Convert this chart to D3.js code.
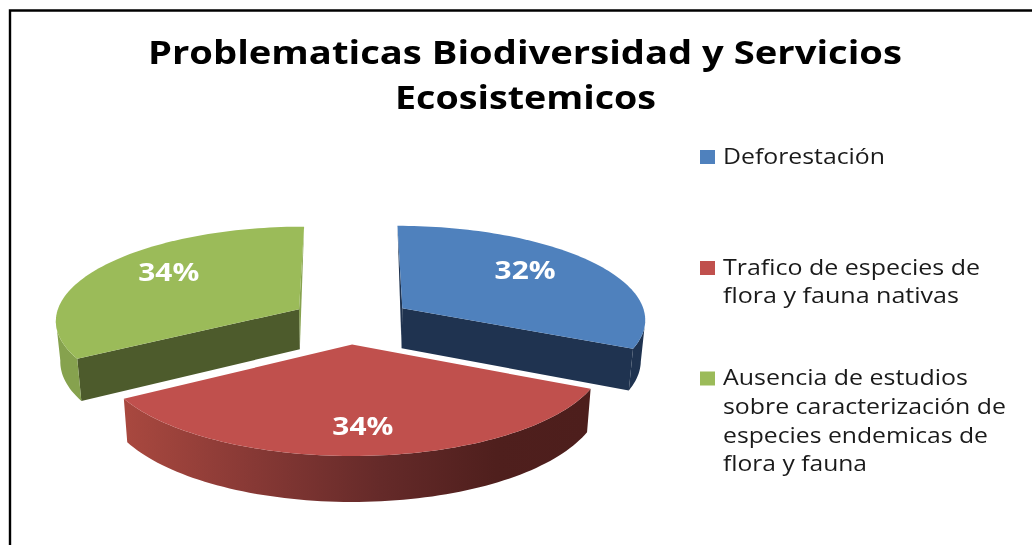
<!DOCTYPE html>
<html>
<head>
<meta charset="utf-8">
<script src="https://cdn.jsdelivr.net/npm/d3@7"></script>
<style>
body { margin: 0; background: #fff; }
text { font-family: "Open Sans", sans-serif; }
svg { filter: blur(0.4px); }
</style>
</head>
<body>
<div id="chart"></div>
<script>
// data
var categories = ["Deforestación", "Trafico de especies de flora y fauna nativas", "Ausencia de estudios sobre caracterización de especies endemicas de flora y fauna"];
var values = [32, 34.4, 33.6];
var titleLines = ["Problematicas Biodiversidad y Servicios", "Ecosistemicos"];
var legendLines = [
	["Deforestación"],
	["Trafico de especies de", "flora y fauna nativas"],
	["Ausencia de estudios", "sobre caracterización de", "especies endemicas de", "flora y fauna"]
];

// widths measured on the picture, the original font is stretched
var titleWidths = [754, 261];
var legendWidths = [[162], [257, 236], [245, 283, 265, 144]];
var legendBaselines = [[163.5], [274.5, 302.6], [385, 413.5, 442.5, 471]];

var topColors = ["#4f81bd", "#c0504d", "#9bbb59"];
var cutColors = ["#1f3350", "#4d1e1c", "#4d5b2c"];
var endColors = ["#1f3350", "#4d1e1c", "#86a24e"];
var rimColors = ["#1f3350", "url(#redRim)", "#86a24e"];

var width = 1032, height = 545;

var svg = d3.select("#chart").append("svg")
	.attr("width", width)
	.attr("height", height)
	.style("display", "block");

var defs = svg.append("defs");
var grad = defs.append("linearGradient")
	.attr("id", "redRim")
	.attr("gradientUnits", "userSpaceOnUse")
	.attr("x1", 127).attr("x2", 588).attr("y1", 0).attr("y2", 0);
grad.append("stop").attr("offset", "0").attr("stop-color", "#a8483f");
grad.append("stop").attr("offset", "0.25").attr("stop-color", "#8a3a36");
grad.append("stop").attr("offset", "0.55").attr("stop-color", "#652a29");
grad.append("stop").attr("offset", "0.8").attr("stop-color", "#4f1f1d");
grad.append("stop").attr("offset", "1").attr("stop-color", "#4d1e1c");

// frame, only top and left sides are in the crop
svg.append("path")
	.attr("d", d3.line()([[10, height], [10, 10.5], [width, 10.5]]))
	.attr("fill", "none")
	.attr("stroke", "#000")
	.attr("stroke-width", 2.4);

// title
svg.selectAll(".title")
	.data(titleLines)
	.enter().append("text")
	.attr("class", "title")
	.attr("x", function(d, i) { return i == 0 ? 148 : 395; })
	.attr("y", function(d, i) { return i == 0 ? 63.5 : 108.5; })
	.attr("textLength", function(d, i) { return titleWidths[i]; })
	.attr("lengthAdjust", "spacingAndGlyphs")
	.style("font-size", "32.5px")
	.style("font-weight", 700)
	.style("fill", "#000")
	.text(function(d) { return d; });

// perspective of the pie plane: v is toward the viewer, radius = 1
var horizon = -549, invA = 1.150e-3, invB = 0.124e-3, widen = 0.281, cx = 351.5;
var explode = 0.25;
var depthScale = d3.scaleLinear().domain([307, 457]).range([40, 46]);
// small corrections so each slice sits where it does in the picture
var sliceNudge = [0, -0.01, 0];
var labelNudge = [[2, -3], [2, 0], [-5, -5]];

function project(u, v, low) {
	var dist = 1 / (invA - invB * v);
	var y = horizon + dist;
	var x = cx + u * widen * dist;
	if (low) {
		x = cx + (x - cx) * 0.985;
		y = y + depthScale(y);
	}
	return [x, y];
}

var pie = d3.pie().sort(null).startAngle(0).endAngle(2 * Math.PI);
var arcs = pie(values);
var line = d3.line();

arcs.forEach(function(a, i) {
	var mid = (a.startAngle + a.endAngle) / 2;
	a.ou = Math.sin(mid) * explode + sliceNudge[i];
	a.ov = -Math.cos(mid) * explode;
	a.mid = mid;
	a.labelPos = project(a.ou + 0.63 * Math.sin(mid), a.ov - 0.75 * Math.cos(mid), false);
	a.labelPos[0] += labelNudge[i][0];
	a.labelPos[1] += labelNudge[i][1] + 9;
});

function rimPoint(a, angle, low) {
	return project(a.ou + Math.sin(angle), a.ov - Math.cos(angle), low);
}
function rimAngles(a) {
	return d3.range(0, 81).map(function(i) {
		return a.startAngle + (a.endAngle - a.startAngle) * i / 80;
	});
}

// back slices first, red is in front
var drawOrder = [2, 0, 1];
var pieG = svg.append("g");
drawOrder.forEach(function(i) {
	var a = arcs[i];
	var g = pieG.append("g").attr("class", "slice");
	var angles = rimAngles(a);
	var top = angles.map(function(t) { return rimPoint(a, t, false); });
	var apexTop = project(a.ou, a.ov, false);
	var apexLow = project(a.ou, a.ov, true);

	// outer wall only from the widest point of the slice to its front corner
	var widest = d3.greatestIndex(top, function(p) { return Math.abs(p[0] - cx); });
	var front = angles;
	if (i == 0) front = angles.slice(widest);
	if (i == 2) front = angles.slice(0, widest + 1);

	// blue and green both show a thin sliver on the side facing the gap at the back
	if (i == 0) {
		g.append("path")
			.attr("d", line([apexTop, top[0], apexLow]) + "Z")
			.attr("fill", endColors[i]);
		g.append("path")
			.attr("d", line([apexTop, top[top.length - 1], rimPoint(a, a.endAngle, true), apexLow]) + "Z")
			.attr("fill", cutColors[i]);
	} else if (i == 2) {
		g.append("path")
			.attr("d", line([apexTop, top[top.length - 1], apexLow]) + "Z")
			.attr("fill", endColors[i]);
		g.append("path")
			.attr("d", line([apexTop, top[0], rimPoint(a, a.startAngle, true), apexLow]) + "Z")
			.attr("fill", cutColors[i]);
	}

	var rimTop = front.map(function(t) { return rimPoint(a, t, false); });
	var rimLow = front.map(function(t) { return rimPoint(a, t, true); }).reverse();
	g.append("path")
		.attr("d", line(rimTop.concat(rimLow)) + "Z")
		.attr("fill", rimColors[i]);

	g.append("path")
		.attr("d", line([apexTop].concat(top)) + "Z")
		.attr("fill", topColors[i]);
});

// percent labels on the top faces
var total = d3.sum(values);
var fmt = d3.format(".0%");
svg.selectAll(".pct")
	.data(arcs)
	.enter().append("text")
	.attr("class", "pct")
	.attr("x", function(d) { return d.labelPos[0]; })
	.attr("y", function(d) { return d.labelPos[1]; })
	.attr("text-anchor", "middle")
	.attr("textLength", 61)
	.attr("lengthAdjust", "spacingAndGlyphs")
	.style("font-size", "25px")
	.style("font-weight", 700)
	.style("fill", "#fff")
	.text(function(d) { return fmt(d.value / total); });

// legend
var legend = svg.selectAll(".legend")
	.data(categories)
	.enter().append("g")
	.attr("class", "legend");

legend.append("rect")
	.attr("x", 700)
	.attr("y", function(d, i) { return legendBaselines[i][0] - 13.5; })
	.attr("width", 15)
	.attr("height", 14)
	.attr("fill", function(d, i) { return topColors[i]; });

legend.each(function(d, i) {
	d3.select(this).selectAll("text")
		.data(legendLines[i])
		.enter().append("text")
		.attr("x", 723)
		.attr("y", function(t, j) { return legendBaselines[i][j]; })
		.attr("textLength", function(t, j) { return legendWidths[i][j]; })
		.attr("lengthAdjust", "spacingAndGlyphs")
		.style("font-size", "21px")
		.style("fill", "#1a1a1a")
		.text(function(t) { return t; });
});
</script>
</body>
</html>
